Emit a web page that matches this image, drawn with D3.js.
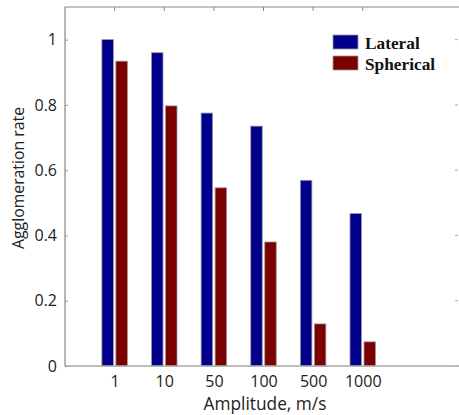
<!DOCTYPE html>
<html>
<head>
<meta charset="utf-8">
<script src="https://cdn.jsdelivr.net/npm/d3@7"></script>
<style>
  body { margin: 0; background: #fff; }
  svg { display: block; }
</style>
</head>
<body>
<div id="chart-container"></div>
<script>
const amplitudes = ['1', '10', '50', '100', '500', '1000'];
const lateral = [1.0, 0.96, 0.775, 0.735, 0.569, 0.467];
const spherical = [0.934, 0.797, 0.546, 0.38, 0.129, 0.074];
const seriesNames = ['Lateral', 'Spherical'];
const seriesColors = ['#00008c', '#7d0000'];
const yTicks = [0, 0.2, 0.4, 0.6, 0.8, 1];

drawChart();

function drawChart() {
  const width = 459;
  const height = 415;
  const plot = { left: 65, top: 7, bottom: 366, right: 462 };

  const svg = d3.select('#chart-container').append('svg')
      .attr('width', width)
      .attr('height', height);

  // position 0..8 along x, categories sit at 1..6
  const xScale = d3.scaleLinear([0, 8], [plot.left, plot.right]);
  const yScale = d3.scaleLinear([0, 1.1], [plot.bottom, plot.top]);

  const barWidth = 11.5;
  const offset = 7;

  const series = [lateral, spherical];
  series.forEach((vals, s) => {
    svg.append('g')
      .selectAll('rect')
      .data(vals)
      .join('rect')
        .attr('x', (d, i) => xScale(i + 1) + (s === 0 ? -offset : offset) - barWidth / 2)
        .attr('y', d => yScale(d))
        .attr('width', barWidth)
        .attr('height', d => yScale(0) - yScale(d))
        .attr('fill', seriesColors[s])
        .attr('stroke', '#9a9a9a')
        .attr('stroke-width', 0.8);
  });

  const axisColor = '#a8a8a8';
  const tickFont = '"Open Sans", sans-serif';

  // frame lines
  svg.append('line')
      .attr('x1', plot.left).attr('x2', width)
      .attr('y1', plot.bottom).attr('y2', plot.bottom)
      .attr('stroke', axisColor).attr('stroke-width', 1.6);
  svg.append('line')
      .attr('x1', plot.left).attr('x2', width)
      .attr('y1', plot.top).attr('y2', plot.top)
      .attr('stroke', '#888').attr('stroke-width', 1.2);
  svg.append('line')
      .attr('x1', plot.left).attr('x2', plot.left)
      .attr('y1', plot.top).attr('y2', plot.bottom)
      .attr('stroke', '#999').attr('stroke-width', 1.4);

  // x axis labels
  const xAxis = d3.axisBottom(xScale)
      .tickValues(d3.range(1, amplitudes.length + 1))
      .tickFormat(d => amplitudes[d - 1])
      .tickSize(0)
      .tickPadding(10);
  const gx = svg.append('g')
      .attr('transform', `translate(0, ${plot.bottom})`)
      .call(xAxis);
  gx.select('.domain').remove();
  gx.selectAll('text')
      .attr('font-family', tickFont)
      .attr('font-size', 16)
      .attr('fill', '#222');

  // top ticks, pointing inward
  svg.append('g')
    .selectAll('line')
    .data(d3.range(1, amplitudes.length + 1))
    .join('line')
      .attr('x1', d => xScale(d)).attr('x2', d => xScale(d))
      .attr('y1', plot.top).attr('y2', plot.top + 4)
      .attr('stroke', '#888');

  // y axis
  const yAxis = d3.axisLeft(yScale)
      .tickValues(yTicks)
      .tickFormat(d => d === 0 ? '0' : d === 1 ? '1' : d3.format('.1f')(d))
      .tickSize(-3)
      .tickPadding(8);
  const gy = svg.append('g')
      .attr('transform', `translate(${plot.left}, 0)`)
      .call(yAxis);
  gy.select('.domain').remove();
  gy.selectAll('line').attr('stroke', '#999');
  gy.selectAll('text')
      .attr('font-family', tickFont)
      .attr('font-size', 16)
      .attr('fill', '#222');

  // right side ticks
  svg.append('g')
    .selectAll('line')
    .data(yTicks)
    .join('line')
      .attr('x1', width - 4).attr('x2', width - 1)
      .attr('y1', d => yScale(d)).attr('y2', d => yScale(d))
      .attr('stroke', '#aaa');

  // axis titles
  svg.append('text')
      .attr('x', 265)
      .attr('y', 410)
      .attr('text-anchor', 'middle')
      .attr('font-family', tickFont)
      .attr('font-size', 17.3)
      .attr('fill', '#222')
      .text('Amplitude, m/s');

  svg.append('text')
      .attr('transform', 'translate(24, 178) rotate(-90)')
      .attr('text-anchor', 'middle')
      .attr('font-family', tickFont)
      .attr('font-size', 15.8)
      .attr('fill', '#222')
      .text('Agglomeration rate');

  // legend
  const legend = svg.append('g').attr('transform', 'translate(333, 35)');
  seriesNames.forEach((name, i) => {
    legend.append('rect')
        .attr('x', 0)
        .attr('y', i * 21)
        .attr('width', 25)
        .attr('height', 14)
        .attr('fill', seriesColors[i])
        .attr('stroke', '#9a9a9a')
        .attr('stroke-width', 0.8);
    legend.append('text')
        .attr('x', 32)
        .attr('y', i * 21 + 14)
        .attr('font-family', '"Liberation Serif", "Times New Roman", serif')
        .attr('font-weight', 'bold')
        .attr('font-size', 17.3)
        .attr('fill', '#111')
        .text(name);
  });
}
</script>
</body>
</html>
